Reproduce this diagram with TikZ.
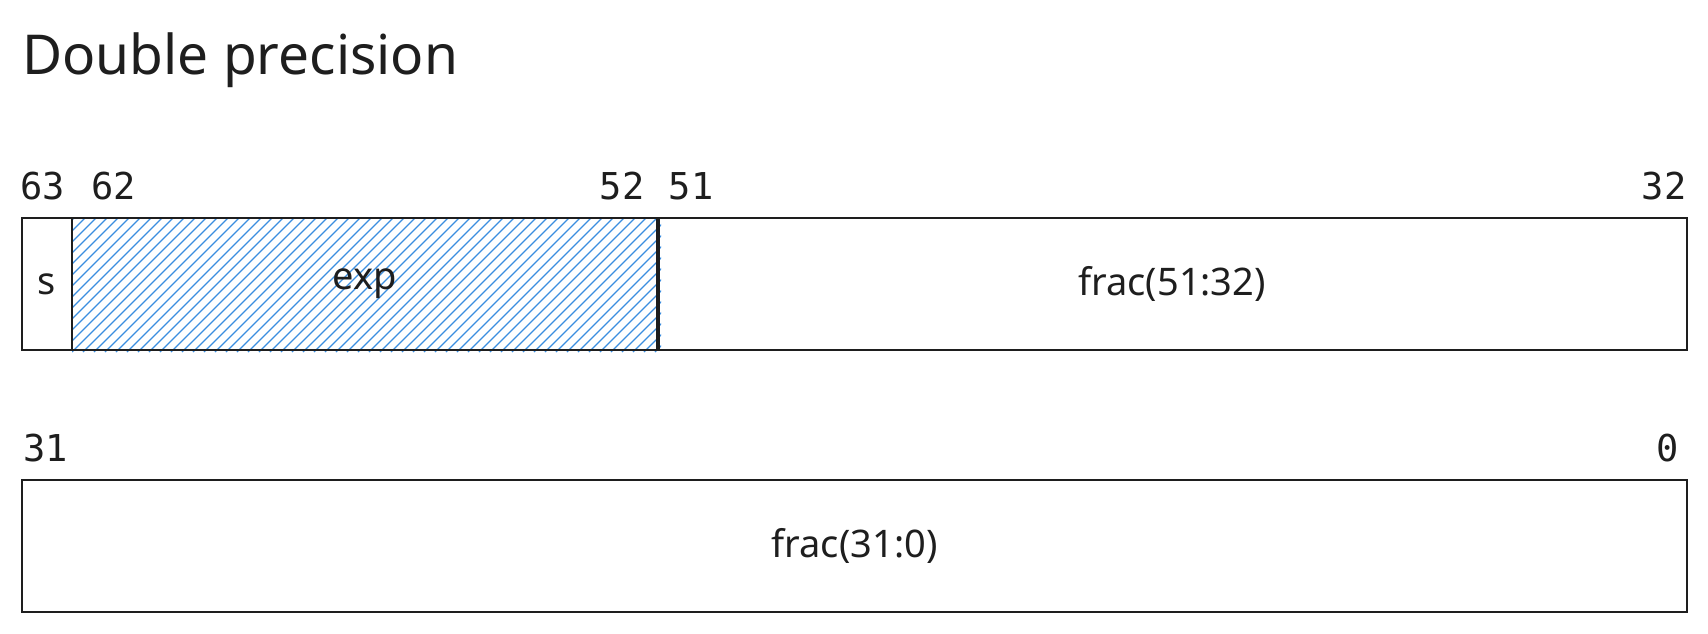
\documentclass[tikz,border=0pt]{standalone}
\usepackage{fontspec}
\setmainfont{Noto Sans}
\newfontfamily\monofont{DejaVu Sans Mono}
\newfontfamily\handfont{Noto Sans}
\definecolor{ink}{HTML}{1E1E1E}
\definecolor{hatchblue}{HTML}{3B8EE0}
\begin{document}
\begin{tikzpicture}[x=0.5pt,y=-0.5pt,
  fieldbox/.style={draw=ink, line width=1pt, inner sep=0pt, minimum height=66pt, font=\handfont\fontsize{19}{22}\selectfont, text=ink},
  bitnum/.style={font=\monofont\fontsize{18.5}{22}\selectfont, text=ink, inner sep=0pt, anchor=base},
  titletext/.style={font=\handfont\fontsize{27.5}{32}\selectfont, text=ink, inner sep=0pt, anchor=base west},
  hatch/.style={draw=hatchblue, line width=0.55pt}]
\useasboundingbox (0,0) rectangle (1708,633);
\fill[white] (0,0) rectangle (1708,633);

\node[titletext] (title) at (22,74) {Double precision};

% hatch of the exponent field
\begin{scope}
  \clip (72,217) rectangle (661,352);
  \foreach \k in {-13,...,54} {
    \draw[hatch] ({72+\k*11},352) -- ({72+\k*11+135},217);
  }
\end{scope}

\node[fieldbox, minimum width=25pt] (sbox) at (47,284) {s};
\node[fieldbox, minimum width=292.5pt] (expbox) at (364.5,284) {exp};
\node[fieldbox, minimum width=515pt] (frachi) at (1172,284) {frac(51:32)};
\node[fieldbox, minimum width=832.5pt] (fraclo) at (854.5,546) {frac(31:0)};
\draw[ink, line width=1.6pt] (expbox.north east) -- (expbox.south east);

\node[bitnum] (b63) at (43,199) {63};
\node[bitnum] (b62) at (114,199) {62};
\node[bitnum] (b52) at (622,199) {52};
\node[bitnum] (b51) at (691,199) {51};
\node[bitnum] (b32) at (1664,199) {32};
\node[bitnum] (b31) at (46,461) {31};
\node[bitnum] (b0) at (1668,461) {0};
\end{tikzpicture}
\end{document}
